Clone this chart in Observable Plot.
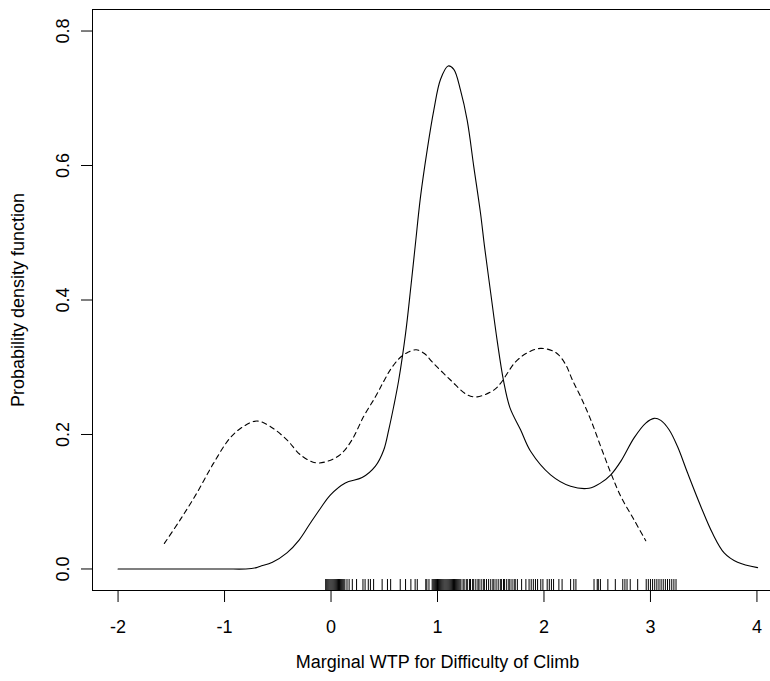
<!DOCTYPE html>
<html>
<head>
<meta charset="utf-8">
<script src="https://cdn.jsdelivr.net/npm/d3@7"></script>
<script src="https://cdn.jsdelivr.net/npm/@observablehq/plot@0.6"></script>
<style>
  html, body { margin: 0; padding: 0; background: #fff; overflow: hidden; }
  svg { overflow: hidden !important; }
</style>
</head>
<body>
<div id="chart"></div>
<script>
// Solid density curve
const solidX = [-2.0, -1.5, -1.0, -0.8, -0.7, -0.663, -0.55, -0.414, -0.3, -0.195, -0.1, -0.007, 0.134, 0.292, 0.417, 0.495, 0.542, 0.589, 0.636, 0.70, 0.75, 0.793, 0.840, 0.903, 0.965, 1.028, 1.100, 1.153, 1.216, 1.279, 1.341, 1.404, 1.442, 1.50, 1.56, 1.62, 1.68, 1.78, 1.874, 2.062, 2.250, 2.423, 2.533, 2.627, 2.721, 2.846, 2.956, 3.034, 3.097, 3.175, 3.254, 3.348, 3.473, 3.583, 3.692, 3.818, 4.006];
const solidY = [0, 0, 0, 0, 0.002, 0.004, 0.010, 0.024, 0.043, 0.068, 0.090, 0.110, 0.128, 0.136, 0.153, 0.177, 0.207, 0.242, 0.281, 0.35, 0.42, 0.484, 0.553, 0.623, 0.682, 0.728, 0.748, 0.743, 0.712, 0.667, 0.598, 0.529, 0.479, 0.41, 0.34, 0.28, 0.24, 0.207, 0.175, 0.140, 0.123, 0.120, 0.128, 0.140, 0.160, 0.195, 0.217, 0.224, 0.221, 0.207, 0.182, 0.143, 0.093, 0.053, 0.024, 0.010, 0.002];

// Dashed density curve
const dashX = [-1.565, -1.417, -1.260, -1.104, -0.947, -0.822, -0.696, -0.571, -0.414, -0.289, -0.148, -0.038, 0.087, 0.197, 0.307, 0.417, 0.495, 0.56, 0.64, 0.72, 0.80, 0.88, 0.95, 1.122, 1.279, 1.373, 1.529, 1.592, 1.733, 1.85, 1.97, 2.11, 2.20, 2.267, 2.345, 2.439, 2.533, 2.627, 2.721, 2.846, 2.956];
const dashY = [0.038, 0.073, 0.113, 0.157, 0.195, 0.212, 0.220, 0.212, 0.192, 0.170, 0.158, 0.160, 0.170, 0.192, 0.227, 0.256, 0.279, 0.297, 0.313, 0.322, 0.326, 0.320, 0.308, 0.281, 0.259, 0.256, 0.266, 0.276, 0.308, 0.322, 0.328, 0.322, 0.305, 0.281, 0.256, 0.222, 0.182, 0.143, 0.108, 0.073, 0.042];

// Rug observations
const rug = [-0.05,-0.04,-0.03,-0.02,-0.01,0.00,0.01,0.02,0.03,0.04,0.05,0.06,0.07,0.08,0.09,0.10,0.11,0.12,0.13,0.15,0.17,
  0.20,0.24,0.30,0.32,0.35,0.37,0.40,0.48,0.53,0.56,0.65,0.70,0.75,0.79,0.81,0.89,0.90,0.92,
  0.95,0.96,0.97,0.98,0.99,1.00,1.01,1.02,1.03,1.04,1.05,1.06,1.07,1.08,1.09,1.10,1.11,1.12,1.13,1.14,1.15,1.16,1.17,1.18,1.19,1.20,1.21,1.22,
  1.24,1.25,1.27,1.28,1.30,1.31,1.33,1.34,1.36,1.38,1.39,1.41,1.43,1.44,1.46,1.48,1.50,1.52,1.53,1.55,1.57,1.59,1.60,1.62,1.63,1.65,1.67,1.68,1.70,1.72,1.73,1.75,
  1.79,1.83,1.86,1.88,1.90,1.92,1.94,1.97,1.99,2.03,2.05,2.07,2.09,2.14,2.17,2.25,2.28,2.30,
  2.47,2.50,2.51,2.53,2.60,2.67,2.74,2.76,2.78,2.81,2.88,
  2.96,2.98,3.00,3.02,3.04,3.06,3.08,3.10,3.12,3.14,3.16,3.18,3.20,3.22,3.24];

const xTicks = [-2, -1, 0, 1, 2, 3, 4];
const yTicks = [0.0, 0.2, 0.4, 0.6, 0.8];
const xLabel = "Marginal WTP for Difficulty of Climb";
const yLabel = "Probability density function";

const solid = solidX.map((x, i) => ({x, y: solidY[i]}));
const dashed = dashX.map((x, i) => ({x, y: dashY[i]}));

const chart = Plot.plot({
  width: 770,
  height: 681,
  marginTop: 9,
  marginBottom: 91,
  marginLeft: 92,
  marginRight: -12,
  style: {fontFamily: "'Liberation Sans', Arial, sans-serif", fontSize: "18px", color: "#000", background: "#fff"},
  x: {domain: [-2.24, 4.24]},
  y: {domain: [-0.032, 0.832]},
  marks: [
    Plot.frame({stroke: "#000", strokeWidth: 1}),
    Plot.axisX({ticks: xTicks, tickSize: 12, tickPadding: 18, tickFormat: d => `${d}`, label: null, fontSize: 18}),
    Plot.axisY({ticks: yTicks, tickSize: 11, tickPadding: 13, tickRotate: -90, tickFormat: d => d.toFixed(1), label: null, fontSize: 18}),
    Plot.ruleX(rug, {x: d => d, insetTop: 570, stroke: "#000", strokeWidth: 1}),
    Plot.line(solid, {x: "x", y: "y", stroke: "#000", strokeWidth: 1.1, curve: "catmull-rom"}),
    Plot.line(dashed, {x: "x", y: "y", stroke: "#000", strokeWidth: 1.1, strokeDasharray: "5,4", curve: "catmull-rom"}),
    Plot.text([xLabel], {text: d => d, frameAnchor: "bottom", dy: 77, fontSize: 18, fill: "#000"}),
    Plot.text([yLabel], {text: d => d, frameAnchor: "left", dx: -74, rotate: -90, textAnchor: "middle", fontSize: 18, fill: "#000"})
  ]
});
document.getElementById("chart").appendChild(chart);
</script>
</body>
</html>
